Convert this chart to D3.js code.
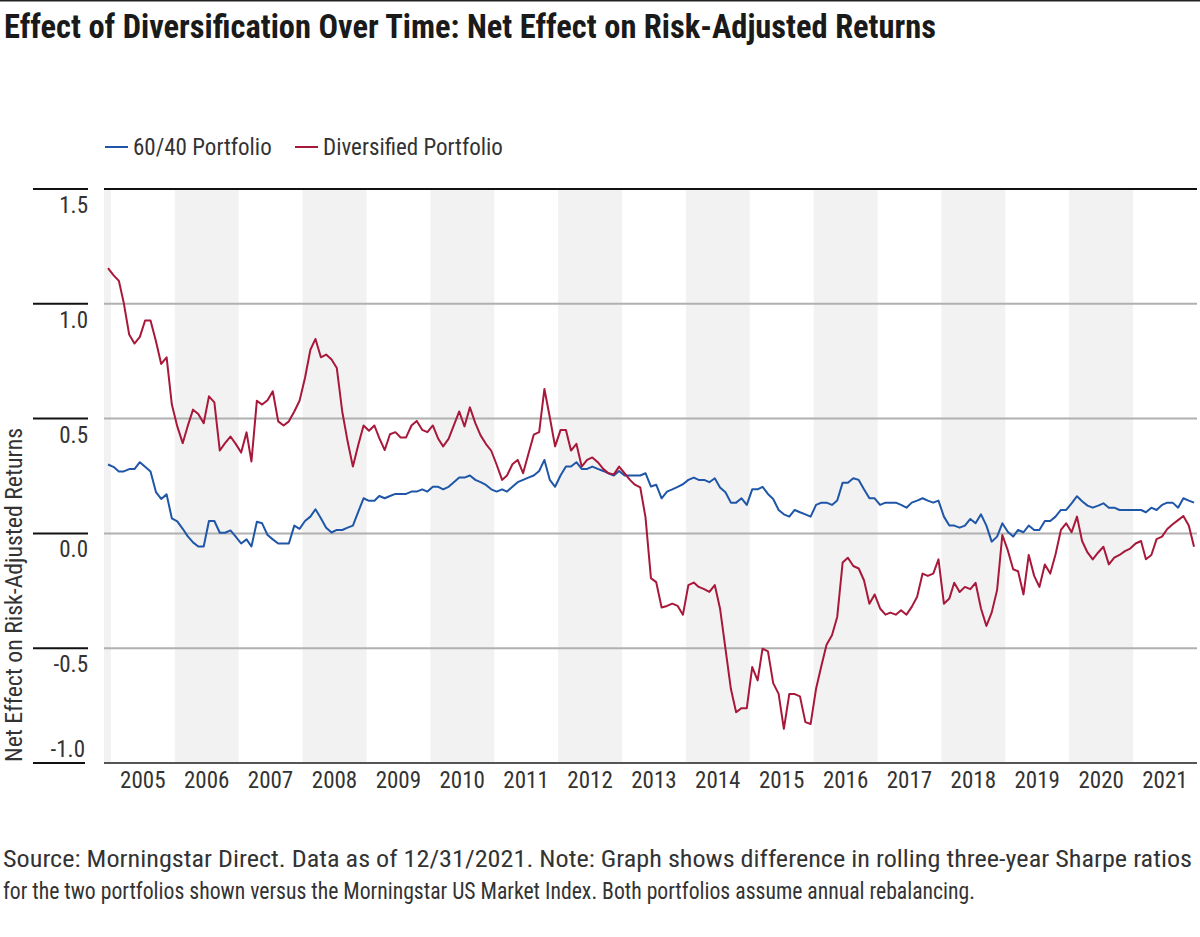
<!DOCTYPE html>
<html>
<head>
<meta charset="utf-8">
<style>
    body {
        margin: 0;
        background: #fff;
    }
    svg {
        font-family: "Liberation Sans Narrow", "Arial Narrow", "Roboto Condensed", sans-serif;
    }
    .title {
        font-size: 34px;
        font-weight: bold;
        fill: #1a1a1a;
    }
    .legend text, .tick-label {
        font-size: 23px;
        fill: #333;
    }
    .source {
        font-size: 24px;
        fill: #333;
    }
    .axis-title {
        font-size: 23px;
        fill: #333;
    }
</style>
</head>
<body>
<svg width="1200" height="937"></svg>

<script src="https://d3js.org/d3.v7.min.js"></script>
<script>
    // monthly values, Dec 2004 .. Dec 2021
    let blue = [
        0.30, 0.29, 0.27, 0.27, 0.28, 0.28, 0.31, 0.29, 0.27, 0.18, 0.15, 0.17,
        0.065, 0.052, 0.02, -0.012, -0.039, -0.057, -0.057, 0.054, 0.054, 0.003, 0.003, 0.013,
        -0.014, -0.044, -0.026, -0.057, 0.051, 0.044, -0.007, -0.026, -0.044, -0.044, -0.044, 0.034,
        0.02, 0.054, 0.073, 0.105, 0.066, 0.025, 0.004, 0.015, 0.015, 0.025, 0.034, 0.095,
        0.153, 0.142, 0.142, 0.163, 0.153, 0.163, 0.172, 0.172, 0.172, 0.182, 0.182, 0.192,
        0.182, 0.203, 0.203, 0.192, 0.203, 0.223, 0.243, 0.243, 0.252, 0.233, 0.223, 0.211,
        0.192, 0.182, 0.192, 0.182, 0.203, 0.223, 0.233, 0.243, 0.252, 0.272, 0.32, 0.233,
        0.203, 0.252, 0.291, 0.291, 0.31, 0.281, 0.281, 0.291, 0.281, 0.272, 0.262, 0.252,
        0.272, 0.252, 0.252, 0.252, 0.252, 0.262, 0.204, 0.212, 0.153, 0.182, 0.192, 0.203,
        0.214, 0.233, 0.243, 0.233, 0.233, 0.223, 0.24, 0.2, 0.179, 0.134, 0.134, 0.153,
        0.124, 0.192, 0.192, 0.203, 0.172, 0.15, 0.102, 0.083, 0.073, 0.102, 0.092, 0.083,
        0.073, 0.124, 0.134, 0.134, 0.124, 0.143, 0.221, 0.221, 0.24, 0.233, 0.192, 0.153,
        0.153, 0.124, 0.134, 0.134, 0.134, 0.124, 0.112, 0.134, 0.143, 0.153, 0.143, 0.134,
        0.143, 0.073, 0.034, 0.034, 0.025, 0.034, 0.063, 0.044, 0.083, 0.034, -0.036, -0.014,
        0.044, 0.007, -0.014, 0.015, 0.005, 0.034, 0.015, 0.015, 0.054, 0.054, 0.073, 0.102,
        0.102, 0.131, 0.162, 0.14, 0.121, 0.112, 0.121, 0.131, 0.112, 0.112, 0.102, 0.102,
        0.102, 0.102, 0.102, 0.092, 0.112, 0.102, 0.124, 0.134, 0.134, 0.112, 0.153, 0.143,
        0.134
    ]

    let red = [
        1.155, 1.125, 1.10, 1.004, 0.866, 0.827, 0.856, 0.927, 0.927, 0.837, 0.738, 0.767,
        0.561, 0.466, 0.393, 0.466, 0.539, 0.52, 0.48, 0.597, 0.571, 0.361, 0.393, 0.422,
        0.39, 0.352, 0.44, 0.313, 0.578, 0.561, 0.58, 0.619, 0.488, 0.47, 0.488, 0.531,
        0.578, 0.677, 0.80, 0.847, 0.767, 0.779, 0.757, 0.72, 0.531, 0.40, 0.291, 0.386,
        0.47, 0.447, 0.47, 0.415, 0.363, 0.432, 0.441, 0.418, 0.418, 0.47, 0.49, 0.451,
        0.441, 0.47, 0.412, 0.379, 0.412, 0.47, 0.531, 0.466, 0.549, 0.48, 0.427, 0.389,
        0.36, 0.299, 0.233, 0.252, 0.301, 0.32, 0.262, 0.345, 0.43, 0.441, 0.629, 0.505,
        0.379, 0.45, 0.45, 0.361, 0.39, 0.291, 0.32, 0.331, 0.31, 0.281, 0.262, 0.257,
        0.291, 0.262, 0.233, 0.212, 0.2, 0.07, -0.195, -0.212, -0.323, -0.316, -0.306, -0.316,
        -0.354, -0.225, -0.214, -0.233, -0.243, -0.255, -0.225, -0.327, -0.502, -0.677, -0.779, -0.761,
        -0.761, -0.582, -0.64, -0.502, -0.514, -0.652, -0.699, -0.851, -0.70, -0.70, -0.71, -0.822,
        -0.83, -0.677, -0.575, -0.485, -0.444, -0.364, -0.127, -0.106, -0.142, -0.153, -0.204, -0.306,
        -0.266, -0.327, -0.354, -0.345, -0.354, -0.335, -0.354, -0.32, -0.276, -0.175, -0.185, -0.175,
        -0.113, -0.306, -0.284, -0.215, -0.255, -0.233, -0.243, -0.215, -0.327, -0.403, -0.345, -0.247,
        -0.007, -0.073, -0.156, -0.165, -0.266, -0.094, -0.185, -0.233, -0.135, -0.175, -0.092, 0.015,
        0.044, 0.005, 0.073, -0.033, -0.083, -0.113, -0.083, -0.058, -0.135, -0.106, -0.094, -0.077,
        -0.066, -0.044, -0.033, -0.113, -0.094, -0.025, -0.014, 0.019, 0.04, 0.058, 0.076, 0.034,
        -0.058
    ]

    let years = d3.range(2005, 2022)
    let yTicks = [1.5, 1.0, 0.5, 0.0, -0.5, -1.0]

    let seriesNames = ["60/40 Portfolio", "Diversified Portfolio"]
    let seriesColors = ["#1f56a8", "#a8183a"]

    let data = blue.map(function (b, i) {
        return { date: new Date(2004, 11 + i, 15), blue: b, red: red[i] }
    })

    let margin = { top: 189, right: 3, bottom: 174, left: 104 }
    let width = 1200
    let height = 937

    let svg = d3.select("svg")

    // thin rule across the very top
    svg.append("line")
        .attr("x1", 0)
        .attr("x2", width)
        .attr("y1", 0.75)
        .attr("y2", 0.75)
        .attr("stroke", "#222")
        .attr("stroke-width", 1.5)

    let x = d3.scaleTime()
        .domain([new Date(2004, 10, 22), new Date(2022, 0, 1)])
        .range([margin.left, width - margin.right])

    let y = d3.scaleLinear()
        .domain([-1, 1.5])
        .range([height - margin.bottom, margin.top])

    // alternating year bands
    let bandYears = d3.range(2004, 2022, 2)
    svg.append("g")
        .selectAll("rect")
        .data(bandYears)
        .join("rect")
        .attr("x", d => Math.max(x(new Date(d, 0, 1)), margin.left))
        .attr("width", d => Math.min(x(new Date(d + 1, 0, 1)), width - margin.right) - Math.max(x(new Date(d, 0, 1)), margin.left))
        .attr("y", y(1.5))
        .attr("height", y(-1) - y(1.5))
        .attr("fill", "#f2f2f2")

    // gridlines
    svg.append("g")
        .selectAll("line")
        .data(yTicks)
        .join("line")
        .attr("x1", margin.left)
        .attr("x2", width - margin.right)
        .attr("y1", d => y(d))
        .attr("y2", d => y(d))
        .attr("stroke", d => d == 1.5 ? "#111" : (d == -1 ? "#555" : "#b0b0b0"))
        .attr("stroke-width", 2)

    // left tick stubs
    svg.append("g")
        .selectAll("line")
        .data(yTicks)
        .join("line")
        .attr("x1", 33)
        .attr("x2", d => d == -1 ? 85 : 88)
        .attr("y1", d => y(d))
        .attr("y2", d => y(d))
        .attr("stroke", "#111")
        .attr("stroke-width", 2)

    // labels sit under their line, the last one above it
    svg.append("g")
        .selectAll("text")
        .data(yTicks)
        .join("text")
        .attr("class", "tick-label")
        .attr("x", d => d == -1 ? 85 : 88)
        .attr("y", d => d == -1 ? y(d) - 6 : y(d) + 24)
        .attr("text-anchor", "end")
        .text(d => d.toFixed(1))

    // x labels
    svg.append("g")
        .selectAll("text")
        .data(years)
        .join("text")
        .attr("class", "tick-label")
        .attr("x", d => x(new Date(d, 6, 2)))
        .attr("y", 788)
        .attr("text-anchor", "middle")
        .text(d => d)

    let line = d3.line()
        .x(d => x(d.date))

    svg.append("path")
        .datum(data)
        .attr("fill", "none")
        .attr("stroke", seriesColors[0])
        .attr("stroke-width", 2)
        .attr("stroke-linejoin", "round")
        .attr("d", line.y(d => y(d.blue)))

    svg.append("path")
        .datum(data)
        .attr("fill", "none")
        .attr("stroke", seriesColors[1])
        .attr("stroke-width", 2)
        .attr("stroke-linejoin", "round")
        .attr("d", line.y(d => y(d.red)))

    // legend
    let legend = svg.append("g").attr("class", "legend")
    let legendX = [105, 295]
    seriesNames.forEach(function (name, i) {
        legend.append("line")
            .attr("x1", legendX[i])
            .attr("x2", legendX[i] + 23)
            .attr("y1", 147)
            .attr("y2", 147)
            .attr("stroke", seriesColors[i])
            .attr("stroke-width", 2)
        legend.append("text")
            .attr("x", legendX[i] + 28)
            .attr("y", 155)
            .text(name)
    })

    svg.append("text")
        .attr("class", "title")
        .attr("x", 4)
        .attr("y", 38)
        .attr("textLength", 932)
        .attr("lengthAdjust", "spacingAndGlyphs")
        .text("Effect of Diversification Over Time: Net Effect on Risk-Adjusted Returns")

    svg.append("text")
        .attr("class", "axis-title")
        .attr("transform", "translate(22,762) rotate(-90)")
        .attr("textLength", 334)
        .attr("lengthAdjust", "spacingAndGlyphs")
        .text("Net Effect on Risk-Adjusted Returns")

    svg.append("text")
        .attr("class", "source")
        .attr("x", 3)
        .attr("y", 867)
        .attr("textLength", 1189)
        .attr("lengthAdjust", "spacingAndGlyphs")
        .text("Source: Morningstar Direct. Data as of 12/31/2021. Note: Graph shows difference in rolling three-year Sharpe ratios")

    svg.append("text")
        .attr("class", "source")
        .attr("x", 3)
        .attr("y", 899)
        .attr("textLength", 972)
        .attr("lengthAdjust", "spacingAndGlyphs")
        .text("for the two portfolios shown versus the Morningstar US Market Index. Both portfolios assume annual rebalancing.")
</script>
</body>
</html>
